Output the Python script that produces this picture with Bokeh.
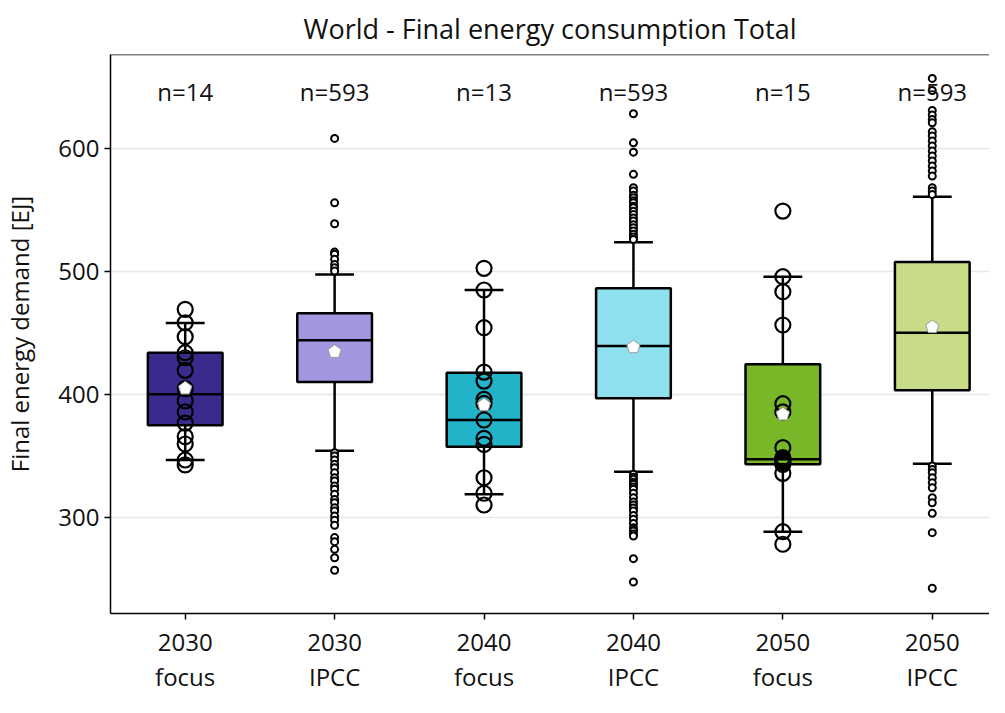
import math
from bokeh.plotting import figure
from bokeh.models import LinearAxis, FixedTicker, Span, ColumnDataSource, Range1d
from bokeh.core.properties import value
from bokeh.embed import file_html
from bokeh.resources import INLINE

# ---------------- data ----------------
years = ["2030", "2030", "2040", "2040", "2050", "2050"]
sources = ["focus", "IPCC", "focus", "IPCC", "focus", "IPCC"]
n_counts = [14, 593, 13, 593, 15, 593]
colors = ["#3b2a8c", "#a395e0", "#22b3c8", "#8ee0ef", "#78b828", "#c8dc88"]

q1 = [375.2, 410.3, 357.8, 397.1, 343.5, 403.6]
medians = [400.3, 444.2, 379.5, 439.5, 347.6, 450.3]
q3 = [434.1, 466.1, 417.9, 486.4, 424.7, 507.7]
whisk_lo = [347.0, 354.5, 319.2, 337.5, 288.8, 344.0]
whisk_hi = [458.2, 497.7, 485.0, 523.7, 495.8, 560.8]
means = [405.2, 434.9, 391.6, 438.7, 384.1, 455.0]

focus_2030 = [469.3, 458.4, 447.1, 434.1, 430.0, 419.8, 405.0, 395.0, 386.0, 377.0, 366.0, 360.0, 347.0, 343.0]
focus_2040 = [502.6, 485.0, 454.4, 418.4, 411.1, 396.3, 393.0, 379.5, 364.6, 359.7, 332.6, 320.0, 310.5]
focus_2050 = [549.1, 495.8, 483.6, 456.6, 392.7, 386.0, 357.0, 349.0, 347.6, 346.2, 345.0, 343.5, 336.2, 288.8, 278.6]

ipcc_2030_out = [608.1, 555.8, 538.8, 515.8, 514.0, 510.0, 505.8, 503.0, 500.4,
                 352.9, 350.2, 347.0, 343.5, 340.8, 336.7, 332.6, 330.0, 326.0, 323.2, 319.2, 315.0,
                 312.3, 308.3, 305.6, 301.5, 298.1, 294.0, 284.0, 280.7, 274.5, 267.7, 257.5]
ipcc_2040_out = [628.1, 604.5, 596.9, 578.9, 568.0, 565.3, 562.0, 559.9, 557.5, 555.8, 553.0, 551.8,
                 549.0, 546.4, 543.5, 541.0, 538.0, 535.6, 533.0, 530.2, 528.0, 526.1,
                 335.4, 333.0, 331.3, 329.0, 327.3, 325.0, 323.2, 320.0, 316.4, 313.0, 310.5, 308.0,
                 305.6, 302.0, 298.9, 295.5, 292.0, 290.5, 289.4, 287.0, 285.3, 266.9, 248.0]
ipcc_2050_out = [656.8, 647.0, 630.8, 627.0, 623.5, 620.8, 613.5, 610.0, 606.0, 601.9, 597.8, 593.8,
                 589.7, 585.6, 581.6, 577.5, 568.0, 565.3, 562.5,
                 342.1, 339.4, 336.7, 332.6, 328.6, 324.5, 316.4, 312.3, 303.7, 288.0, 242.9]

# ---------------- layout ----------------
FONT = "Open Sans"
W, H = 989, 697
B_LEFT, B_TOP, B_BOTTOM = 103, 53, 84
X0, X1 = -0.5, 5.383
Y0, Y1 = 222.4, 676.2
N_LABEL_Y = 646.5
LBL = "24px"

p = figure(width=W, height=H, output_backend="svg", toolbar_location=None,
           x_range=Range1d(X0, X1), y_range=Range1d(Y0, Y1),
           min_border_left=B_LEFT, min_border_top=B_TOP, min_border_right=0,
           min_border_bottom=B_BOTTOM, x_axis_type=None)
p.background_fill_color = "white"
p.border_fill_color = "white"
p.outline_line_color = None

p.title.text = "World - Final energy consumption Total"
p.title.align = "center"
p.title.offset = 9
p.title.text_font = FONT
p.title.text_font_size = "27px"
p.title.text_font_style = "normal"
p.title.text_color = "#111111"
p.title.standoff = 15

# y axis
p.yaxis.ticker = FixedTicker(ticks=[300, 400, 500, 600])
p.yaxis.axis_label = "Final energy demand [EJ]"
p.yaxis.axis_label_text_font = FONT
p.yaxis.axis_label_text_font_size = LBL
p.yaxis.axis_label_text_font_style = "normal"
p.yaxis.axis_label_text_color = "#111111"
p.yaxis.axis_label_standoff = 19
p.yaxis.major_label_text_font = FONT
p.yaxis.major_label_text_font_size = LBL
p.yaxis.major_label_text_color = "#111111"
p.yaxis.major_label_standoff = 5
p.yaxis.major_tick_out = 6
p.yaxis.major_tick_in = 0
p.yaxis.minor_tick_line_color = None
p.yaxis.axis_line_width = 1.5
p.yaxis.major_tick_line_width = 1.5
p.yaxis.axis_line_color = "black"

p.xgrid.grid_line_color = None
p.ygrid.grid_line_color = "#e6e6e6"
p.ygrid.grid_line_width = 1.5

idx = list(range(len(years)))
ax1 = LinearAxis(ticker=FixedTicker(ticks=idx),
                 major_label_overrides={i: years[i] for i in idx})
ax1.major_label_text_font = FONT
ax1.major_label_text_font_size = LBL
ax1.major_label_text_color = "#111111"
ax1.major_label_standoff = 14
ax1.major_tick_out = 6
ax1.major_tick_in = 0
ax1.minor_tick_line_color = None
ax1.axis_line_width = 1.5
ax1.major_tick_line_width = 1.5
p.add_layout(ax1, "below")

ax2 = LinearAxis(ticker=FixedTicker(ticks=idx),
                 major_label_overrides={i: sources[i] for i in idx})
ax2.major_label_text_font = FONT
ax2.major_label_text_font_size = LBL
ax2.major_label_text_color = "#111111"
ax2.major_label_standoff = 0
ax2.major_tick_line_color = None
ax2.minor_tick_line_color = None
ax2.axis_line_color = None
p.add_layout(ax2, "below")

p.add_layout(Span(location=Y1, dimension="width", line_color="black", line_width=1.5))

# ---------------- boxes ----------------
BOX_W = 0.5
CAP_W = 0.26
LW = 2.5
src = ColumnDataSource(dict(x=idx, q1=q1, q3=q3, med=medians, lo=whisk_lo, hi=whisk_hi,
                            color=colors,
                            xl=[i - BOX_W / 2 for i in idx], xr=[i + BOX_W / 2 for i in idx],
                            cl=[i - CAP_W / 2 for i in idx], cr=[i + CAP_W / 2 for i in idx]))
p.segment(x0="x", y0="q3", x1="x", y1="hi", source=src, line_color="black", line_width=LW)
p.segment(x0="x", y0="q1", x1="x", y1="lo", source=src, line_color="black", line_width=LW)
p.vbar(x="x", width=BOX_W, bottom="q1", top="q3", source=src, fill_color="color",
       line_color="black", line_width=LW)
p.segment(x0="xl", y0="med", x1="xr", y1="med", source=src, line_color="black", line_width=LW)
p.segment(x0="cl", y0="hi", x1="cr", y1="hi", source=src, line_color="black", line_width=LW)
p.segment(x0="cl", y0="lo", x1="cr", y1="lo", source=src, line_color="black", line_width=LW)

# focus scenario points (all shown)
for i, vals in [(0, focus_2030), (2, focus_2040), (4, focus_2050)]:
    p.scatter(x=[i] * len(vals), y=vals, size=15, marker="circle", fill_color=None,
              line_color="black", line_width=2.2)

# IPCC outliers
for i, vals in [(1, ipcc_2030_out), (3, ipcc_2040_out), (5, ipcc_2050_out)]:
    p.scatter(x=[i] * len(vals), y=vals, size=7, marker="circle", fill_color="white",
              line_color="black", line_width=2)

# mean markers (pentagons)
frame_w = W - B_LEFT
frame_h = H - B_TOP - B_BOTTOM
px_x = frame_w / (X1 - X0)
px_y = frame_h / (Y1 - Y0)
R = 7.0
xs, ys = [], []
for i, m in zip(idx, means):
    angs = [math.pi / 2 + k * 2 * math.pi / 5 for k in range(5)]
    xs.append([i + R * math.cos(a) / px_x for a in angs])
    ys.append([m + R * math.sin(a) / px_y for a in angs])
p.patches(xs=xs, ys=ys, fill_color="white", line_color="#9a9a9a", line_width=1)

# n labels
p.text(x=idx, y=[N_LABEL_Y] * len(idx), text=[f"n={n}" for n in n_counts],
       text_font=value(FONT), text_font_size=LBL, text_color="#111111",
       text_align="center", text_baseline="middle")

open("out.html", "w").write(file_html(p, INLINE))
